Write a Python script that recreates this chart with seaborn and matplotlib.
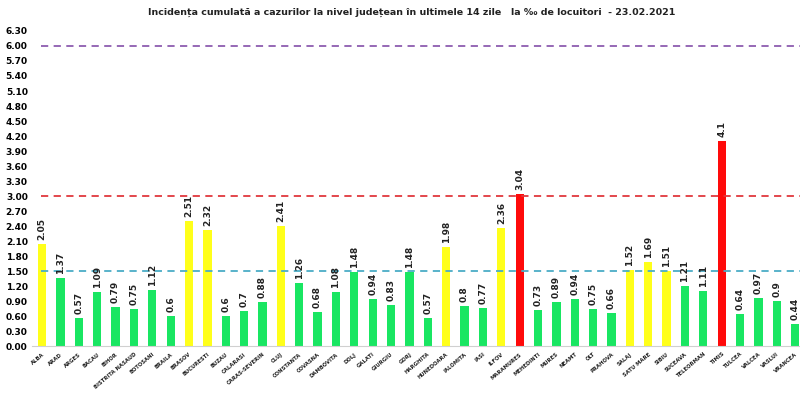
import matplotlib
matplotlib.use("Agg")
import matplotlib.pyplot as plt
import seaborn as sns
import pandas as pd
import numpy as np

counties = ["ALBA", "ARAD", "ARGES", "BACAU", "BIHOR", "BISTRITA NASAUD", "BOTOSANI", "BRAILA",
            "BRASOV", "BUCURESTI", "BUZAU", "CALARASI", "CARAS-SEVERIN", "CLUJ", "CONSTANTA",
            "COVASNA", "DAMBOVITA", "DOLJ", "GALATI", "GIURGIU", "GORJ", "HARGHITA", "HUNEDOARA",
            "IALOMITA", "IASI", "ILFOV", "MARAMURES", "MEHEDINTI", "MURES", "NEAMT", "OLT",
            "PRAHOVA", "SALAJ", "SATU MARE", "SIBIU", "SUCEAVA", "TELEORMAN", "TIMIS", "TULCEA",
            "VALCEA", "VASLUI", "VRANCEA"]
values = [2.05, 1.37, 0.57, 1.09, 0.79, 0.75, 1.12, 0.6, 2.51, 2.32, 0.6, 0.7, 0.88, 2.41, 1.26,
          0.68, 1.08, 1.48, 0.94, 0.83, 1.48, 0.57, 1.98, 0.8, 0.77, 2.36, 3.04, 0.73, 0.89, 0.94,
          0.75, 0.66, 1.52, 1.69, 1.51, 1.21, 1.11, 4.1, 0.64, 0.97, 0.9, 0.44]
value_labels = ["2.05", "1.37", "0.57", "1.09", "0.79", "0.75", "1.12", "0.6", "2.51", "2.32", "0.6",
                "0.7", "0.88", "2.41", "1.26", "0.68", "1.08", "1.48", "0.94", "0.83", "1.48", "0.57",
                "1.98", "0.8", "0.77", "2.36", "3.04", "0.73", "0.89", "0.94", "0.75", "0.66", "1.52",
                "1.69", "1.51", "1.21", "1.11", "4.1", "0.64", "0.97", "0.9", "0.44"]
thresholds = [1.5, 3.0, 6.0]
threshold_colors = ["#4BACC6", "#E0383E", "#8E5DB0"]
yticks = [round(0.3 * i, 2) for i in range(22)]

GREEN, YELLOW, RED = "#19E662", "#FFFF1A", "#FF0A0A"
def col(v):
    if v >= 3.0:
        return RED
    if v >= 1.5:
        return YELLOW
    return GREEN

df = pd.DataFrame({"county": counties, "value": values})
palette = {c: col(v) for c, v in zip(counties, values)}

plt.rcParams['font.family'] = ['DejaVu Sans']
fig = plt.figure(figsize=(8, 3.97), dpi=100)
ax = fig.add_axes([0.04, 0.128, 0.962, 0.794])
sns.barplot(data=df, x="county", y="value", hue="county", palette=palette,
            legend=False, width=0.45, ax=ax, saturation=1)

for i, (v, lab) in enumerate(zip(values, value_labels)):
    ax.text(i, v + 0.08, lab, rotation=90, ha="center", va="bottom",
            fontsize=6.5, fontweight="bold", color="#222222")

for t, c in zip(thresholds, threshold_colors):
    ax.hlines(t, -0.05, 41.6, colors=c, linestyles=(0, (4, 3)), linewidth=1.3)

ax.set_xlim(-0.55, 41.35)
ax.set_ylim(0, 6.3)
ax.set_yticks(yticks)
ax.set_yticklabels([f"{t:.2f}" for t in yticks], fontsize=6.5, fontweight="bold")
ax.set_xticks(range(len(counties)))
ax.set_xticklabels(counties, rotation=40, ha="right", rotation_mode="anchor",
                   fontsize=3.8, fontweight="bold", color="#222222")
ax.tick_params(axis="both", length=0, pad=3)
ax.tick_params(axis="x", pad=4)
ax.set_xlabel("")
ax.set_ylabel("")
for s in ["top", "right", "left"]:
    ax.spines[s].set_visible(False)
ax.spines["bottom"].set_color("#D0D0D0")
ax.spines["bottom"].set_linewidth(0.8)

fig.text(0.515, 0.968, "Incidența cumulată a cazurilor la nivel județean în ultimele 14 zile   la ‰ de locuitori  - 23.02.2021",
         ha="center", va="center", fontsize=6.8, fontweight="bold", color="#222222")

fig.savefig("out.png", dpi=100, facecolor="white")
